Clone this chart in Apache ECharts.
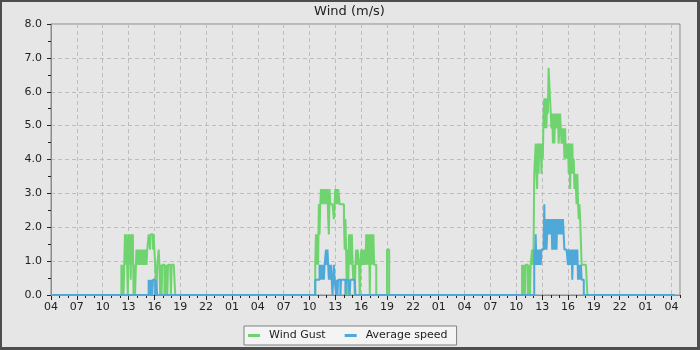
<!DOCTYPE html>
<html><head><meta charset="utf-8">
<script src="https://cdn.jsdelivr.net/npm/echarts@6/dist/echarts.min.js"></script>
<style>
html,body{margin:0;padding:0;background:#4d4d4d;}
#wrap{width:695px;height:345px;border-style:solid;border-color:#4d4d4d;border-width:2px 3px 3px 2px;background:#e6e6e6;}
#chart{width:695px;height:345px;}
</style></head>
<body><div id="wrap"><div id="chart"></div></div>
<script>
// The x axis runs from 04:00 of day 0 to 05:00 of day 3; readings are sampled every 5 minutes.
const AXIS_START_HOUR = 4;
const AXIS_SPAN_HOURS = 73;
const SAMPLE_MINUTES = 5;
const SERIES_NAMES = ['Wind Gust', 'Average speed'];

// Each block: day index, clock time of first sample, then 5-minute readings (m/s).
const gustDay0Start = [0, '12:10'];
const gustDay0 = [0.89,0,0.89,0,0.89,1.79,0.89,1.79,0.89,0,1.79,0.89,1.79,0.45,1.79,0.89,1.79,0,0.89,0,0,
  1.34,0.89,1.34,1.34,0.89,1.34,0.89,1.34,1.34,0.89,1.34,0.89,1.34,1.34,0.89,1.34,1.34,
  1.79,1.79,1.34,1.79,1.79,1.79,1.34,1.79,1.79,0.89,0.89,0,0.89,0.89,1.34,0.89,0,0.89,0,
  0.89,0.89,0.89,0,0.89,0,0.89,0,0.89,0.89,0.89,0.89,0,0.89,0.89,0.89,0.89,0.89,0];
const avgDay0Start = [0, '15:20'];
const avgDay0 = [0.45,0.45,0,0.45,0.45,0,0.45,0.45,0.45,0,0.45,0.45,0];

const gustDay1Start = [1, '10:40'];
const gustDay1 = [0.89,1.79,0.89,1.79,0.89,2.68,1.79,2.68,3.13,2.68,3.13,2.68,3.13,3.13,2.68,3.13,
  2.68,3.13,2.24,1.79,3.13,2.68,2.68,2.68,2.68,2.68,2.24,2.68,3.13,2.68,3.13,2.68,3.13,3.13,
  2.68,2.68,2.68,2.68,2.68,2.68,2.24,1.34,2.24,1.34,0,1.34,0,1.79,0.89,1.79,0.89,1.79,0.89,
  0.45,0.89,0,0.89,1.34,0.89,1.34,1.34,0.89,0,0.89,1.34,0.89,1.34,0.89,1.34,1.34,0.89,1.79,
  0.89,1.79,0.89,1.79,0,1.79,0.89,1.79,0.89,1.79,0.89,0.89,0.89,0];
const gustDay1bStart = [1, '19:00'];
const gustDay1b = [1.34,1.34,1.34,0];
const avgDay1Start = [1, '10:40'];
const avgDay1 = [0.45,0.45,0.45,0.45,0.45,0.45,0.89,0.45,0.89,0.45,0.89,0.89,0.45,0.89,0.89,
  1.34,0.89,1.34,0.89,0.45,0.89,0.45,0.89,0.89,0,0.45,0.89,0.45,0.45,0,0.45,0,0.45,0.45,0.45,
  0,0.45,0.45,0.45,0.45,0.45,0.45,0,0.45,0.45,0.45,0.45,0.45,0,0.45,0.45,0.45,0.45,0.45,0.45,
  0.45,0];

const gustDay2Start = [2, '10:40'];
const gustDay2 = [0.89,0,0.89,0.89,0,0.89,0.89,0.89,0,0.89,0.89,0,0.89,0.89,1.34,0.89,1.34,
  3.58,3.58,4.47,3.58,3.13,4.47,3.58,4.47,4.02,4.47,3.58,4.47,4.02,5.36,5.81,4.92,5.81,4.92,
  5.81,5.36,6.71,6.71,5.81,5.36,4.92,5.36,4.47,5.36,4.47,5.36,4.92,5.36,4.92,5.36,4.47,4.92,
  5.36,4.92,4.47,4.92,4.47,4.92,4.02,4.92,4.02,4.47,4.02,4.47,3.58,4.47,3.13,4.47,3.58,4.47,
  3.58,4.02,3.13,3.58,3.13,2.68,3.58,2.68,2.24,2.68,2.24,2.24,0.89,0.89,0.89,0.89,0.89,0.89,
  0.89,0.89,0];
const avgDay2Start = [2, '12:05'];
const avgDay2 = [1.34,0.89,1.79,0.89,1.34,0.89,1.34,0.89,1.34,0.89,1.34,1.34,1.34,1.34,2.68,
  1.34,2.24,1.34,1.79,2.24,1.79,2.24,2.24,1.79,2.24,1.34,2.24,1.34,2.24,1.34,2.24,1.34,2.24,
  1.79,2.24,2.24,1.79,2.24,2.24,1.79,2.24,2.24,1.34,1.34,1.34,1.34,1.34,0.89,1.34,0.89,1.34,
  0.89,1.34,0.45,1.34,0.89,1.34,0.89,1.34,0.89,1.34,0.45,0.89,0.45,0.45,0.89,0.45,0.45,0.45,0];

const DATA_START = [0, '04:00'];
const DATA_END = [3, '04:25'];

function toHours(day, hhmm) {
  const p = hhmm.split(':').map(Number);
  return day * 24 + p[0] + p[1] / 60 - AXIS_START_HOUR;
}
function build(blocks) {
  const out = [[toHours(DATA_START[0], DATA_START[1]), 0]];
  blocks.forEach(function (b) {
    const t0 = toHours(b[0][0], b[0][1]);
    b[1].forEach(function (v, i) { out.push([t0 + i * SAMPLE_MINUTES / 60, v]); });
  });
  out.push([toHours(DATA_END[0], DATA_END[1]), 0]);
  return out;
}
const gust = build([[gustDay0Start, gustDay0], [gustDay1Start, gustDay1], [gustDay1bStart, gustDay1b], [gustDay2Start, gustDay2]]);
const avg = build([[avgDay0Start, avgDay0], [avgDay1Start, avgDay1], [avgDay2Start, avgDay2]]);

const FONT = 'DejaVu Sans';
const chart = echarts.init(document.getElementById('chart'), null, {renderer: 'canvas'});
chart.setOption({
  animation: false,
  backgroundColor: '#e6e6e6',
  title: {
    text: 'Wind (m/s)', left: 'center', top: 3, padding: 0,
    textStyle: {fontFamily: FONT, fontSize: 13, fontWeight: 'normal', color: '#222'}
  },
  legend: {
    data: SERIES_NAMES, left: 242, top: 324, orient: 'horizontal',
    padding: [4, 9, 4, 4], itemGap: 19, itemWidth: 12, itemHeight: 3, icon: 'rect',
    backgroundColor: '#f4f4f4', borderColor: '#808080', borderWidth: 1, borderRadius: 0,
    textStyle: {fontFamily: FONT, fontSize: 11, color: '#222', padding: [0, 0, 0, 4]}
  },
  grid: {left: 49, right: 17, top: 22, bottom: 52, show: true, borderColor: '#8c8c8c', borderWidth: 1, backgroundColor: 'transparent'},
  xAxis: [{
    type: 'value', min: 0, max: AXIS_SPAN_HOURS, interval: 3, position: 'bottom',
    axisLine: {lineStyle: {color: '#8c8c8c'}},
    axisTick: {length: 5, lineStyle: {color: '#222'}},
    splitLine: {show: true, lineStyle: {color: '#bdbdbd', type: [4, 3]}},
    axisLabel: {
      margin: 7, fontFamily: FONT, fontSize: 11, color: '#222', showMaxLabel: false,
      formatter: function (v) {
        if (Math.abs(v / 3 - Math.round(v / 3)) > 1e-6) return '';
        const h = ((Math.round(v) + AXIS_START_HOUR) % 24 + 24) % 24;
        return (h < 10 ? '0' : '') + h;
      }
    }
  }, {
    type: 'value', min: 0, max: AXIS_SPAN_HOURS, interval: 1, position: 'bottom', offset: 0,
    axisLine: {show: false},
    axisTick: {show: true, length: 3, lineStyle: {color: '#222'}},
    splitLine: {show: false},
    axisLabel: {show: false}
  }],
  yAxis: {
    type: 'value', min: 0, max: 8, interval: 1,
    axisLine: {show: true, lineStyle: {color: '#8c8c8c'}},
    axisTick: {show: true, length: 4, lineStyle: {color: '#222'}},
    minorTick: {show: true, splitNumber: 2, length: 3, lineStyle: {color: '#222'}},
    splitLine: {show: true, lineStyle: {color: '#bdbdbd', type: [4, 3]}},
    axisLabel: {margin: 9, fontFamily: FONT, fontSize: 11, color: '#222', formatter: function (v) { return v.toFixed(1); }}
  },
  series: [
    {name: SERIES_NAMES[0], type: 'line', step: 'end', data: gust, showSymbol: false, symbol: 'none',
     lineStyle: {color: '#6fd46f', width: 2}, itemStyle: {color: '#6fd46f'}},
    {name: SERIES_NAMES[1], type: 'line', step: 'end', data: avg, showSymbol: false, symbol: 'none',
     lineStyle: {color: '#4ea8d8', width: 2}, itemStyle: {color: '#4ea8d8'}}
  ]
});
</script>
</body></html>
